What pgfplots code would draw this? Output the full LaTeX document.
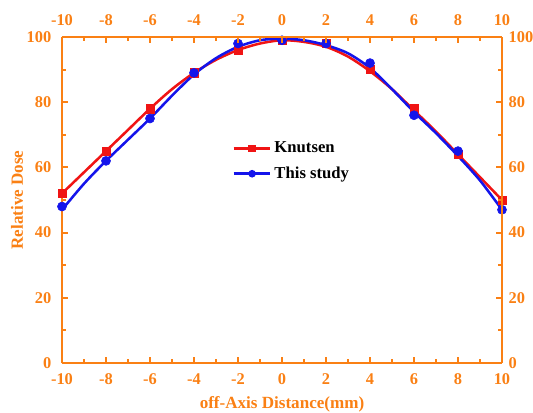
\documentclass[border=0pt]{standalone}
\usepackage{fontspec}
\setmainfont{Liberation Serif}
\usepackage{pgfplots}
\pgfplotsset{compat=1.18}
\definecolor{axor}{RGB}{250,128,20}
\definecolor{myred}{RGB}{240,20,20}
\definecolor{myblue}{RGB}{20,20,235}
\begin{document}
\begin{tikzpicture}
\useasboundingbox (-46.5pt,-36.75pt) rectangle (353.25pt,272.25pt);
\pgfplotsset{
  common/.style={
    scale only axis, width=330pt, height=244.5pt,
    at={(0,0)}, anchor=south west,
    xmin=-10, xmax=10, ymin=0, ymax=100,
    xtick={-10,-8,...,10}, ytick={0,20,...,100},
    minor x tick num=1, minor y tick num=1,
    tick align=inside,
    major tick length=4.5pt, minor tick length=2.8pt,
    every tick/.style={axor, line width=1.6pt},
    axis line style={axor, line width=2.1pt},
    /pgf/number format/assume math mode=true,
    ticklabel style={font=\bfseries\fontsize{12.3}{14}\selectfont, text=axor},
  }
}
\begin{axis}[common, name=ax,
  axis x line*=bottom, axis y line*=left,
  xticklabel style={yshift=-4.5pt},
  yticklabel style={xshift=-4.5pt},
  xlabel={off-Axis Distance(mm)}, ylabel={Relative Dose},
  label style={font=\bfseries\fontsize{12.8}{14}\selectfont, text=axor},
  xlabel style={at={(axis description cs:0.5,-0.128)}, anchor=center},
  ylabel style={at={(axis description cs:-0.1023,0.5)}, anchor=center},
  legend style={draw=none, fill=none, at={(axis cs:-2.45,69.5)}, anchor=north west,
     font=\bfseries\fontsize{12.5}{14}\selectfont, row sep=5pt, text=black},
  legend cell align=left,
  legend image code/.code={
    \draw[#1, mark=none] (0cm,0cm) -- (0.97cm,0cm);
    \draw[#1, only marks, mark size=1.8pt] plot coordinates {(0.485cm,0cm)};
  },
]
\addlegendimage{myred, line width=2pt, mark=square*}
\addlegendentry{Knutsen}
\addlegendimage{myblue, line width=2pt, mark=*}
\addlegendentry{This study}
% fitted curves
\addplot[myred, line width=1.9pt, smooth, forget plot] coordinates {
(-10,52) (-9,58.5) (-8,65) (-7,71.5) (-6,78) (-5,84) (-4,89) (-3,93) (-2,96) (-1,98) (0,99) (1,98.5) (2,97) (3,94) (4,89.5) (5,84) (6,77.5) (7,71) (8,64) (9,57) (10,50)};
\addplot[myblue, line width=1.9pt, smooth, forget plot] coordinates {
(-10,47) (-9,55) (-8,62) (-7,68.5) (-6,75) (-5,82) (-4,88.5) (-3,93.5) (-2,97) (-1,99) (0,99.5) (1,99) (2,97.5) (3,95) (4,90.5) (5,84) (6,77) (7,70.5) (8,63.5) (9,56) (10,47)};
% measured points
\addplot[myred, mark=square*, mark size=3.1pt, only marks, forget plot] coordinates {
(-10,52) (-8,65) (-6,78) (-4,89) (-2,96) (0,99) (2,98) (4,90) (6,78) (8,64) (10,50)};
\addplot[myblue, mark=*, mark size=3.4pt, only marks, forget plot] coordinates {
(-10,48) (-8,62) (-6,75) (-4,89) (-2,98) (0,99) (2,98) (4,92) (6,76) (8,65) (10,47)};
\end{axis}
\begin{axis}[common,
  axis x line*=top, axis y line*=right,
  xticklabel pos=upper, yticklabel pos=right,
  xticklabel style={yshift=5pt},
  yticklabel style={xshift=1.5pt},
]
\end{axis}
\end{tikzpicture}
\end{document}
